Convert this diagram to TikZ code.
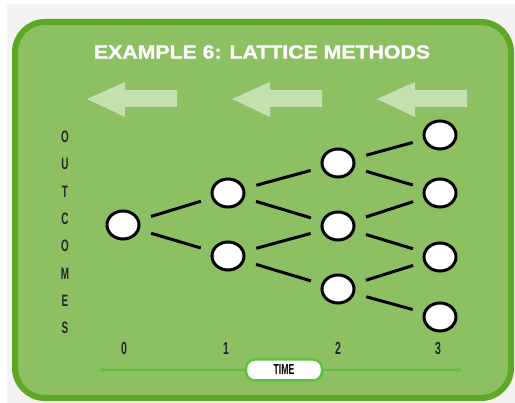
\documentclass[tikz,border=0pt]{standalone}
\usepackage{fontspec}
\setmainfont{Liberation Sans}
\newfontfamily\condfont[FakeStretch=0.6]{Liberation Sans}
\newfontfamily\widefont[FakeStretch=1.12,FakeBold=1.2]{Liberation Sans}
\usetikzlibrary{arrows.meta,shapes.geometric}
\definecolor{panelfill}{HTML}{8DC063}
\definecolor{panelborder}{HTML}{5EA825}
\definecolor{paleflow}{HTML}{C4E0AE}
\definecolor{pagegray}{HTML}{F3F3F3}
\definecolor{axisgreen}{HTML}{5EC13F}
\tikzset{
  state/.style={ellipse, draw=black, fill=white, line width=3pt,
    minimum width=32pt, minimum height=28pt, inner sep=0pt},
  link/.style={line width=3pt, shorten <=12pt, shorten >=11pt},
  flow/.style={fill=paleflow},
  letter/.style={font=\condfont\bfseries\fontsize{16.5}{16.5}\selectfont, text=black!85},
  ticklabel/.style={font=\condfont\bfseries\fontsize{17.5}{17.5}\selectfont, text=black!85},
}
\begin{document}
\begin{tikzpicture}[x=1pt,y=-1pt]
\useasboundingbox (0,0) rectangle (515,403);
% page background
\fill[white] (0,0) rectangle (515,403);
\fill[pagegray] (7,4) rectangle (515,403);
% panel
\draw[line width=6pt, draw=panelborder, fill=panelfill, rounded corners=30pt]
  (15,22) rectangle (511,398);
% title
\node[font=\widefont\bfseries\fontsize{19}{19}\selectfont, text=white] (title) at (262,52) {EXAMPLE 6: LATTICE METHODS};
% backward-flow arrows
\foreach \x in {87,232,377}{
  \fill[flow] (\x,99) -- (\x+38,82) -- (\x+38,90) -- (\x+90,90) -- (\x+90,107)
    -- (\x+38,107) -- (\x+38,117) -- cycle;
}
% vertical axis label
\foreach \ch [count=\i from 0] in {O,U,T,C,O,M,E,S}{
  \node[letter] (ax\i) at (65,{137+27.3*\i}) {\ch};
}
% lattice states
\node[state] (n0)  at (123,225) {};
\node[state] (n1a) at (228,193) {};
\node[state] (n1b) at (228,256) {};
\node[state] (n2a) at (338,163) {};
\node[state] (n2b) at (338,226) {};
\node[state] (n2c) at (338,289) {};
\node[state] (n3a) at (440,135) {};
\node[state] (n3b) at (440,193) {};
\node[state] (n3c) at (440,257) {};
\node[state] (n3d) at (440,317) {};
% transitions
\foreach \a/\b in {n0/n1a,n0/n1b,n1a/n2a,n1a/n2b,n1b/n2b,n1b/n2c,
                   n2a/n3a,n2a/n3b,n2b/n3b,n2b/n3c,n2c/n3c,n2c/n3d}{
  \draw[link] (\a) -- (\b);
}
% time steps
\node[ticklabel] (t0) at (124,348) {0};
\node[ticklabel] (t1) at (226,348) {1};
\node[ticklabel] (t2) at (338,348) {2};
\node[ticklabel] (t3) at (438,348) {3};
% time axis
\coordinate (tl) at (99,370);
\coordinate (tr) at (462,370);
\node[draw=axisgreen, line width=2.5pt, fill=white, rounded corners=9pt,
  minimum width=76pt, minimum height=21pt, inner sep=0pt,
  font=\condfont\bfseries\fontsize{14.5}{14.5}\selectfont] (time) at (284,370) {TIME};
\draw[axisgreen, line width=2pt, -{Stealth[length=6pt,width=6pt]}] (time.west) -- (tl);
\draw[axisgreen, line width=2pt, -{Stealth[length=6pt,width=6pt]}] (time.east) -- (tr);
\end{tikzpicture}
\end{document}
